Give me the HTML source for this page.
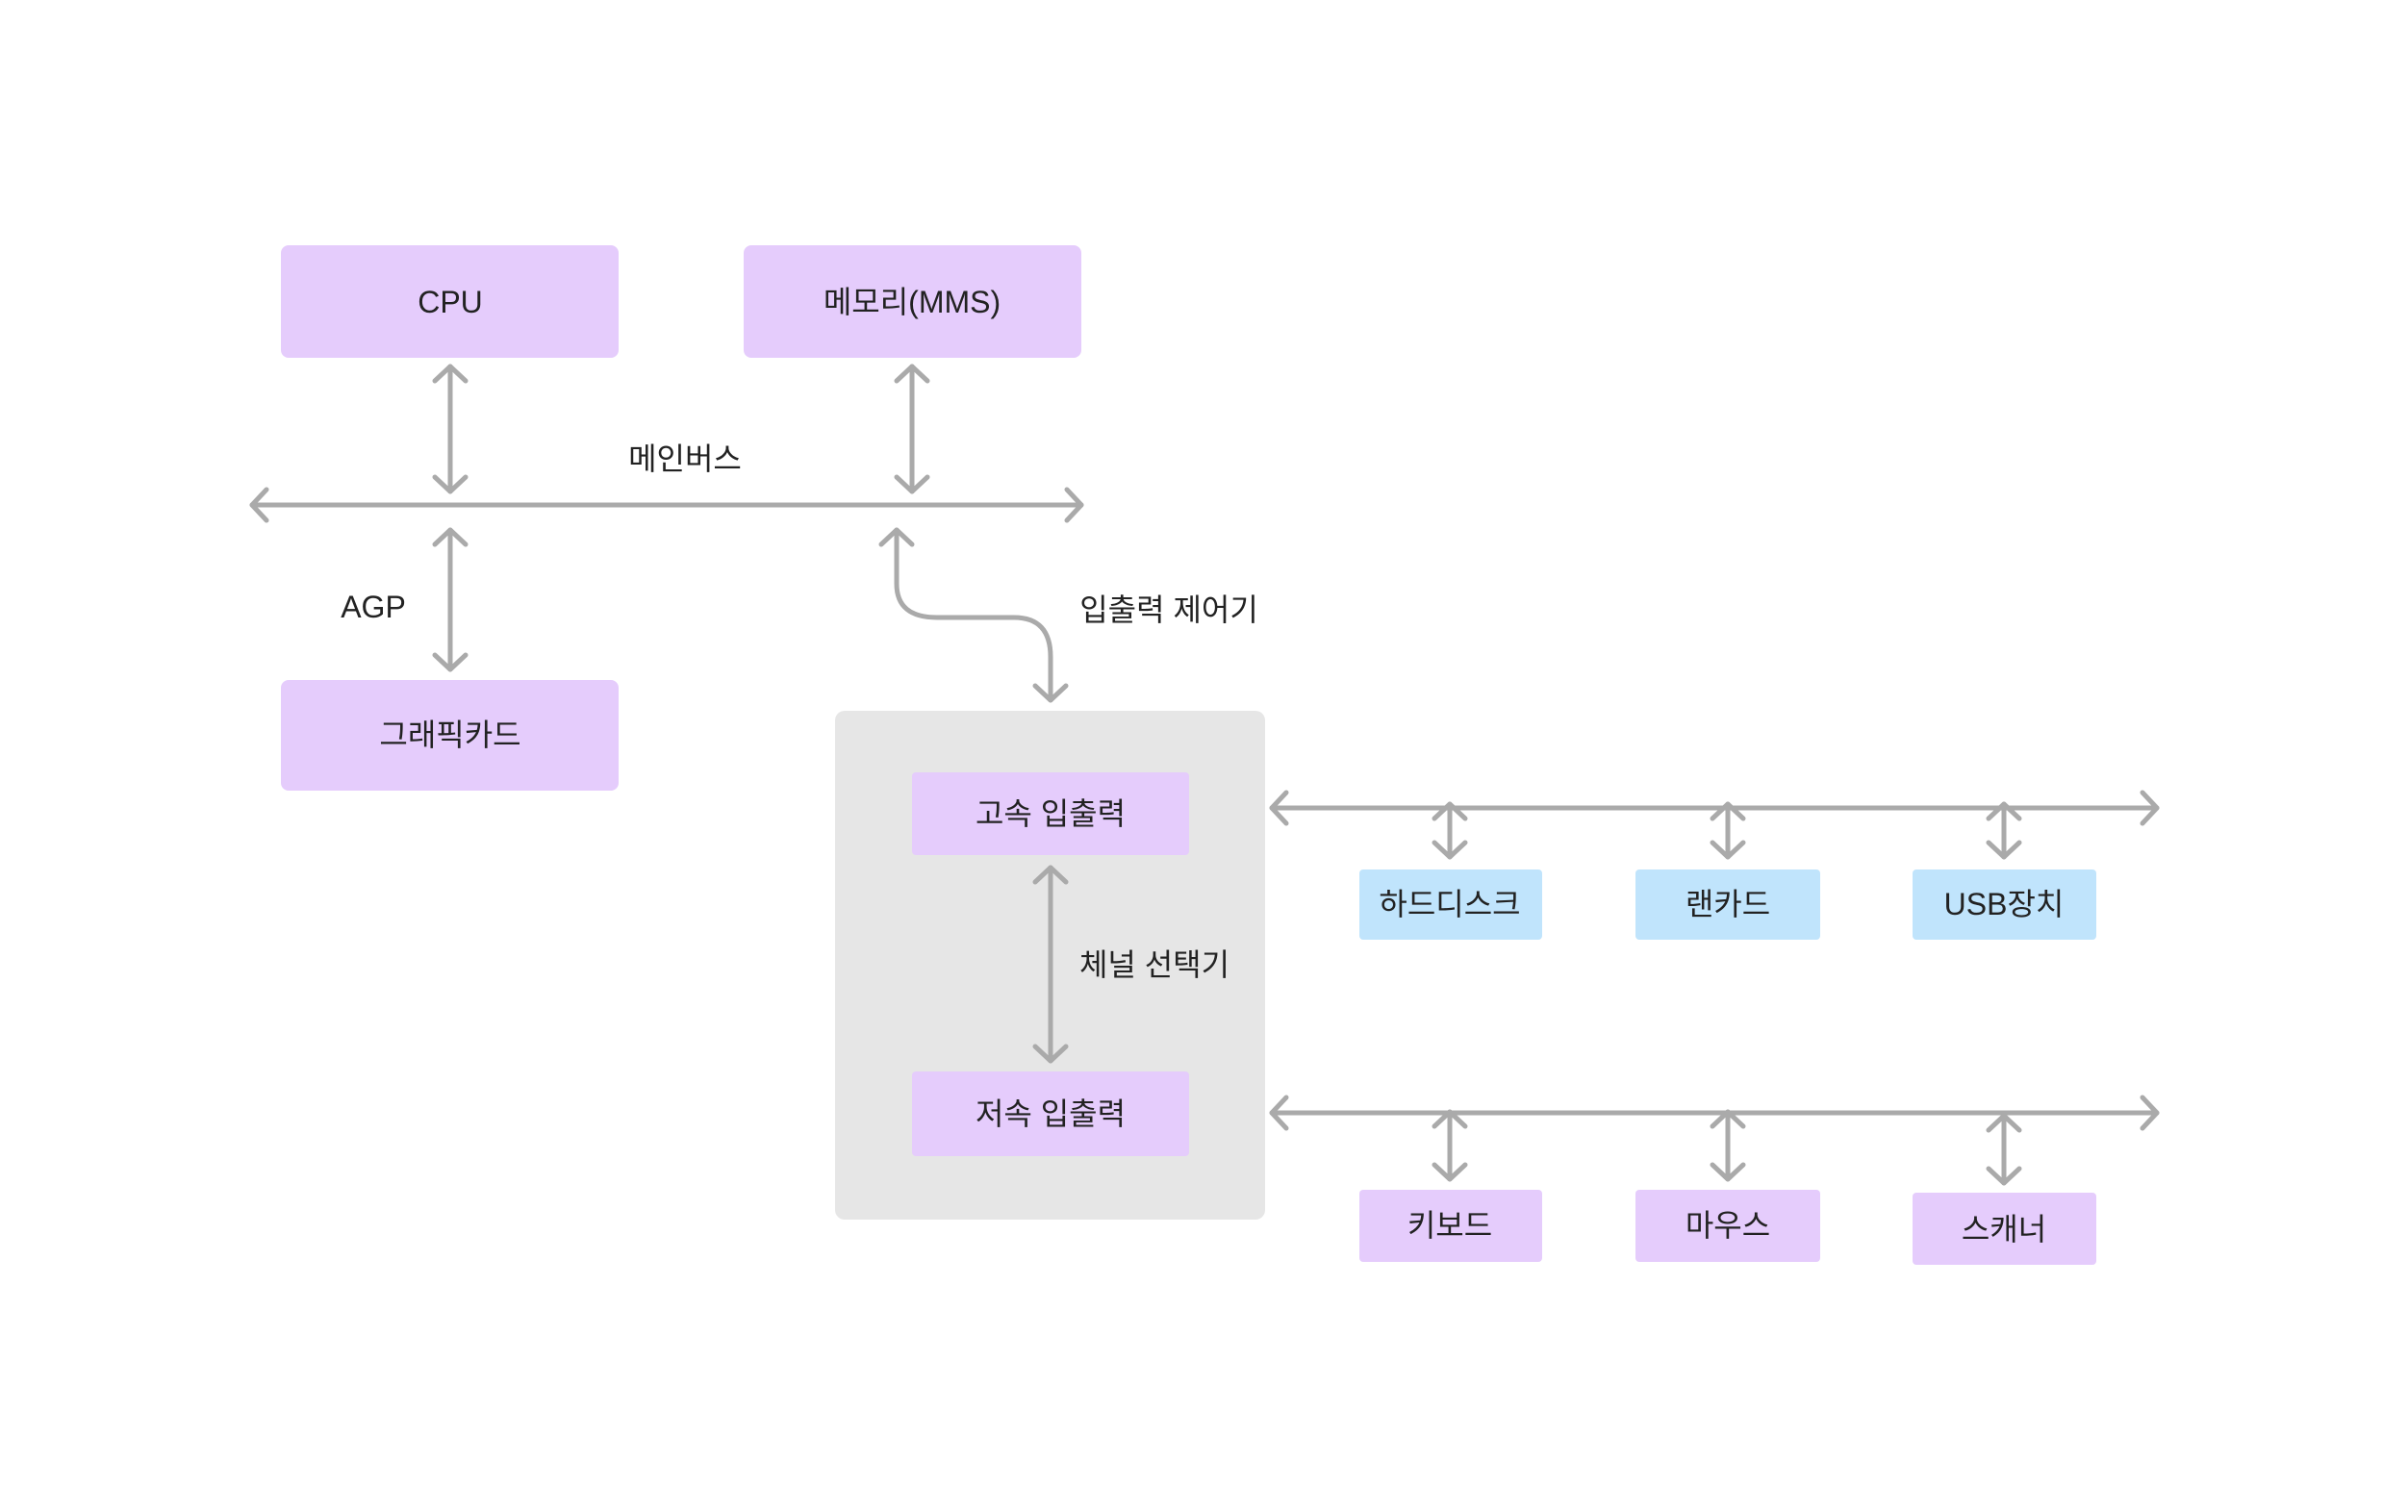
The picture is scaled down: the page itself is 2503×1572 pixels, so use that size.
<!DOCTYPE html>
<html><head><meta charset="utf-8"><style>
html,body{margin:0;padding:0;background:#fff;}
svg{display:block;}
text{font-family:"Liberation Sans","Noto Sans CJK KR",sans-serif;font-size:32px;fill:#222;}
</style></head><body>
<svg width="2503" height="1572" viewBox="0 0 2503 1572" xmlns="http://www.w3.org/2000/svg">
<defs>
<marker id="a" markerUnits="userSpaceOnUse" markerWidth="40" markerHeight="40" refX="20" refY="20" orient="auto-start-reverse" viewBox="0 0 40 40">
<polyline points="5,4 20,20 5,36" fill="none" stroke="#aaa" stroke-width="5" stroke-linecap="round" stroke-linejoin="round"/>
</marker>
</defs>
<rect width="2503" height="1572" fill="#fff"/>
<!-- gray container -->
<rect x="868" y="739" width="447" height="529" rx="10" fill="#e6e6e6"/>
<!-- purple boxes -->
<g fill="#e5ccfc">
<rect x="292" y="255" width="351" height="117" rx="8"/>
<rect x="773" y="255" width="351" height="117" rx="8"/>
<rect x="292" y="707" width="351" height="115" rx="8"/>
<rect x="948" y="803" width="288" height="86" rx="4"/>
<rect x="948" y="1114" width="288" height="88" rx="4"/>
<rect x="1413" y="1237" width="190" height="75" rx="4"/>
<rect x="1700" y="1237" width="192" height="75" rx="4"/>
<rect x="1988" y="1240" width="191" height="75" rx="4"/>
</g>
<g fill="#c0e4fc">
<rect x="1413" y="904" width="190" height="73" rx="4"/>
<rect x="1700" y="904" width="192" height="73" rx="4"/>
<rect x="1988" y="904" width="191" height="73" rx="4"/>
</g>
<!-- lines -->
<g stroke="#aaa" stroke-width="5" fill="none" marker-start="url(#a)" marker-end="url(#a)" stroke-linecap="round">
<line x1="262" y1="525" x2="1124" y2="525"/>
<line x1="468" y1="381" x2="468" y2="511"/>
<line x1="948" y1="381" x2="948" y2="511"/>
<line x1="468" y1="551" x2="468" y2="696"/>
<path d="M932,551 L932,607 Q932,642 974,642 L1054,642 Q1092,642 1092,683 L1092,728"/>
<line x1="1092" y1="902" x2="1092" y2="1103"/>
<line x1="1322" y1="840" x2="2242" y2="840"/>
<line x1="1507" y1="836" x2="1507" y2="891"/>
<line x1="1796" y1="836" x2="1796" y2="891"/>
<line x1="2083" y1="836" x2="2083" y2="891"/>
<line x1="1322" y1="1157" x2="2242" y2="1157"/>
<line x1="1507" y1="1156" x2="1507" y2="1226"/>
<line x1="1796" y1="1156" x2="1796" y2="1226"/>
<line x1="2083" y1="1160" x2="2083" y2="1230"/>
</g>
<!-- text -->
<g text-anchor="middle" dominant-baseline="central">
<text x="468" y="314">CPU</text>
<text x="948" y="314">메모리(MMS)</text>
<text x="712" y="477">메인버스</text>
<text x="388" y="631">AGP</text>
<text x="468" y="764">그래픽카드</text>
<text x="1215" y="634">입출력 제어기</text>
<text x="1092" y="846">고속 입출력</text>
<text x="1200" y="1003">체널 선택기</text>
<text x="1092" y="1158">저속 입출력</text>
<text x="1507" y="940">하드디스크</text>
<text x="1796" y="940">랜카드</text>
<text x="2083" y="940">USB장치</text>
<text x="1507" y="1274">키보드</text>
<text x="1796" y="1274">마우스</text>
<text x="2083" y="1278">스캐너</text>
</g>
</svg>
</body></html>
